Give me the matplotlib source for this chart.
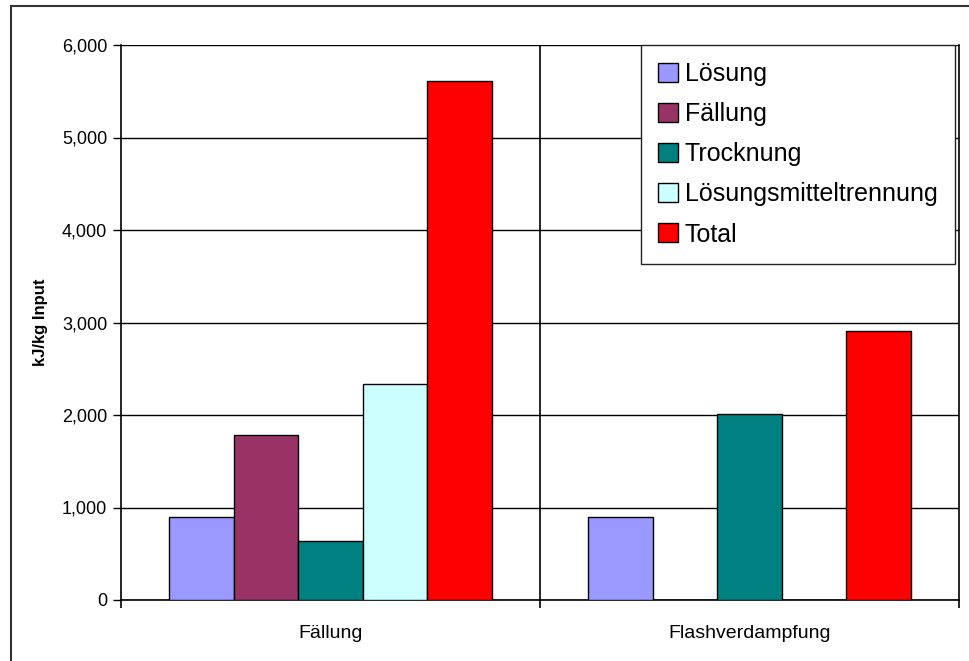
import numpy as np
import matplotlib.pyplot as plt
from matplotlib.patches import Rectangle
from matplotlib.ticker import FuncFormatter

plt.rcParams['font.family'] = ['Liberation Sans', 'DejaVu Sans']

categories = ['Fällung', 'Flashverdampfung']
series = ['Lösung', 'Fällung', 'Trocknung', 'Lösungsmitteltrennung', 'Total']
colors = ['#9999FF', '#993366', '#008080', '#CCFFFF', '#FF0000']
# kJ/kg Input per process step, one list per series
loesung = [900, 900]
faellung = [1785, 0]
trocknung = [640, 2015]
lm_trennung = [2335, 0]
total = [5610, 2910]
values = [loesung, faellung, trocknung, lm_trennung, total]

fig = plt.figure(figsize=(9.7, 6.61), dpi=100)
ax = fig.add_axes([121/970, 1-600/661, 838/970, 555/661])

x = np.arange(len(categories))
w = 0.77/len(series)
for i in range(len(series)):
    ax.bar(x + (i-2)*w, values[i], w, color=colors[i], edgecolor='black',
           linewidth=1, label=series[i], zorder=3)

ax.set_xlim(-0.5, 1.5)
ax.set_ylim(0, 6000)
ax.set_yticks(np.arange(0, 6001, 1000))
ax.yaxis.set_major_formatter(FuncFormatter(lambda v, p: '{:,}'.format(int(v))))
ax.yaxis.grid(True, color='black', linewidth=1, zorder=0)
ax.axvline(0.5, color='black', linewidth=1.2, zorder=1)

# category boundaries carry the tick marks, names sit in the middle
ax.set_xticks([-0.5, 0.5, 1.5])
ax.set_xticklabels([])
ax.set_xticks(x, minor=True)
ax.set_xticklabels(categories, minor=True, fontsize=14)
ax.tick_params(axis='x', which='minor', length=0, pad=18)
ax.tick_params(axis='x', which='major', length=6, width=1.2, direction='out')
ax.tick_params(axis='y', length=6, width=1, direction='out', labelsize=13, pad=4)

for s in ['left', 'bottom', 'right']:
    ax.spines[s].set_linewidth(1.2)
ax.spines['top'].set_visible(False)

ax.set_ylabel('kJ/kg Input', fontsize=12, fontweight='bold', labelpad=10)

leg = ax.legend(loc='upper right', bbox_to_anchor=(0.995, 1.0), fontsize=18,
                frameon=True, fancybox=False, edgecolor='#222222', framealpha=1,
                handlelength=0.8, handleheight=0.8, handletextpad=0.25,
                labelspacing=0.64, borderpad=0.7, borderaxespad=0)
leg.get_frame().set_linewidth(1)
leg.set_zorder(5)

# chart frame around the whole figure
fig.patches.append(Rectangle((11/970, -0.1), 1.2, 1-6/661+0.1,
                             transform=fig.transFigure, fill=False,
                             edgecolor='#333333', linewidth=1.5))

fig.savefig('out.png', dpi=100)
